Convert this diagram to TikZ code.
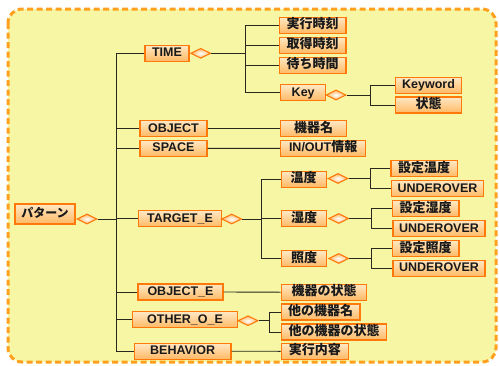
\documentclass[tikz,border=0pt]{standalone}
\usepackage{fontspec}
\setmainfont{Liberation Sans}
\newfontfamily\jp{Noto Sans CJK JP}
\newcommand{\jpb}{\jp\fontsize{13}{13}\selectfont}
\usetikzlibrary{shapes.geometric}
\definecolor{bgy}{RGB}{246,246,165}
\definecolor{dashor}{RGB}{255,160,30}
\definecolor{boxor}{RGB}{255,120,10}
\definecolor{boxtop}{RGB}{255,232,195}
\definecolor{boxbot}{RGB}{255,185,100}
\definecolor{lnc}{RGB}{40,40,30}
\tikzset{
  box/.style={draw=boxor, line width=1.2pt, top color=boxtop, bottom color=boxbot,
    minimum height=16pt, inner sep=0pt, text height=9pt, text depth=2pt,
    font=\bfseries\fontsize{12.5}{12.5}\selectfont, text=black!90},
  dia/.style={shape=diamond, draw=boxor, line width=1.1pt, inner color=white, outer color=boxbot,
    minimum width=20pt, minimum height=10pt, inner sep=0pt, aspect=2},
  ln/.style={draw=lnc, line width=0.9pt},
}
\begin{document}
\begin{tikzpicture}[x=1pt,y=-1pt]
\useasboundingbox (0,0) rectangle (499,365);
\draw[dashor, line width=3pt, dash pattern=on 6pt off 3.5pt, fill=bgy, rounded corners=14pt] (8,9) rectangle (496,362);

% root
\node[box, minimum width=60pt, minimum height=20pt] (pat) at (45,214) {\jp\fontsize{12}{12}\selectfont パターン};
\node[dia] (pd) at (87,219) {};
% level 1
\node[box, minimum width=44pt] (time) at (167,53.3) {TIME};
\node[dia] (td) at (200.7,53.3) {};
\node[box, minimum width=67pt] (object) at (173.5,128.7) {OBJECT};
\node[box, minimum width=67pt] (space) at (173.5,148.4) {SPACE};
\node[box, minimum width=83.4pt] (target) at (180,218.7) {TARGET\_E};
\node[dia] (tgd) at (231.7,219) {};
\node[box, minimum width=85pt] (objecte) at (180.5,292) {OBJECT\_E};
\node[box, minimum width=104.6pt] (other) at (185,319.7) {OTHER\_O\_E};
\node[dia] (od) at (248,320.7) {};
\node[box, minimum width=96.7pt] (behavior) at (182.7,351.2) {BEHAVIOR};
% time children
\node[box, minimum width=66.7pt] (jikko) at (312.7,25.3) {\jpb 実行時刻};
\node[box, minimum width=66.7pt] (shutoku) at (312.7,45.3) {\jpb 取得時刻};
\node[box, minimum width=66.7pt] (machi) at (312.7,65.3) {\jpb 待ち時間};
\node[box, minimum width=45pt] (key) at (303.2,92.8) {Key};
\node[dia] (kd) at (336,95) {};
\node[box, minimum width=66.4pt] (keyword) at (428.5,85.3) {Keyword};
\node[box, minimum width=66.4pt] (jotai) at (428.5,105) {\jpb 状態};
% object/space children
\node[box, minimum width=66pt] (kikimei) at (313.7,128.7) {\jpb 機器名};
\node[box, minimum width=85pt] (inout) at (323.2,148.3) {IN/OUT{\jpb 情報}};
% target children
\node[box, minimum width=45pt] (ondo) at (303.7,179.2) {\jpb 温度};
\node[dia] (ond) at (338,178.5) {};
\node[box, minimum width=66.3pt] (setondo) at (424.2,168.7) {\jpb 設定温度};
\node[box, minimum width=91.6pt] (uo1) at (437.5,188.7) {UNDEROVER};
\node[box, minimum width=45.4pt] (shitsudo) at (304,218.8) {\jpb 湿度};
\node[dia] (shd) at (338.7,218.5) {};
\node[box, minimum width=66.7pt] (setshitsu) at (425.7,208.8) {\jpb 設定湿度};
\node[box, minimum width=92pt] (uo2) at (439,228.7) {UNDEROVER};
\node[box, minimum width=45.4pt] (shodo) at (304,258.8) {\jpb 照度};
\node[dia] (sod) at (338.7,258.5) {};
\node[box, minimum width=66.7pt] (setshodo) at (425.7,248.5) {\jpb 設定照度};
\node[box, minimum width=92pt] (uo3) at (439,268.4) {UNDEROVER};
% others
\node[box, minimum width=85.4pt] (kikijotai) at (324,292.2) {\jpb 機器の状態};
\node[box, minimum width=78.7pt] (takikimei) at (320.7,312) {\jpb 他の機器名};
\node[box, minimum width=105.4pt] (takikijotai) at (334,332) {\jpb 他の機器の状態};
\node[box, minimum width=67pt] (naiyo) at (314.8,351.3) {\jpb 実行内容};

% junctions
\coordinate (tr) at (116,219);
\coordinate (tj) at (245,53.3);
\coordinate (kj) at (370,95);
\coordinate (tgj) at (261.7,219);
\coordinate (onj) at (370,178.5);
\coordinate (shj) at (371,218.5);
\coordinate (soj) at (371,258.5);
\coordinate (oj) at (269.3,320.7);

% connectors
\draw[ln] (pd.east) -- (tr);
\foreach \n in {time,object,space,target,objecte,other,behavior}
  \draw[ln] (tr) |- (\n.west);
\draw[ln, line width=1.4pt] (td.east) -- (tj);
\foreach \n in {jikko,shutoku,machi,key}
  \draw[ln] (tj) |- (\n.west);
\draw[ln] (kd.east) -- (kj);
\foreach \n in {keyword,jotai}
  \draw[ln] (kj) |- (\n.west);
\draw[ln] (object.east) -- (kikimei.west);
\draw[ln] (space.east) -- (inout.west);
\draw[ln] (tgd.east) -- (tgj);
\foreach \n in {ondo,shitsudo,shodo}
  \draw[ln] (tgj) |- (\n.west);
\draw[ln] (ond.east) -- (onj);
\foreach \n in {setondo,uo1}
  \draw[ln] (onj) |- (\n.west);
\draw[ln] (shd.east) -- (shj);
\foreach \n in {setshitsu,uo2}
  \draw[ln] (shj) |- (\n.west);
\draw[ln] (sod.east) -- (soj);
\foreach \n in {setshodo,uo3}
  \draw[ln] (soj) |- (\n.west);
\draw[ln] (objecte.east) -- (kikijotai.west);
\draw[ln] (od.east) -- (oj);
\foreach \n in {takikimei,takikijotai}
  \draw[ln] (oj) |- (\n.west);
\draw[ln] (behavior.east) -- (naiyo.west);
\end{tikzpicture}
\end{document}
